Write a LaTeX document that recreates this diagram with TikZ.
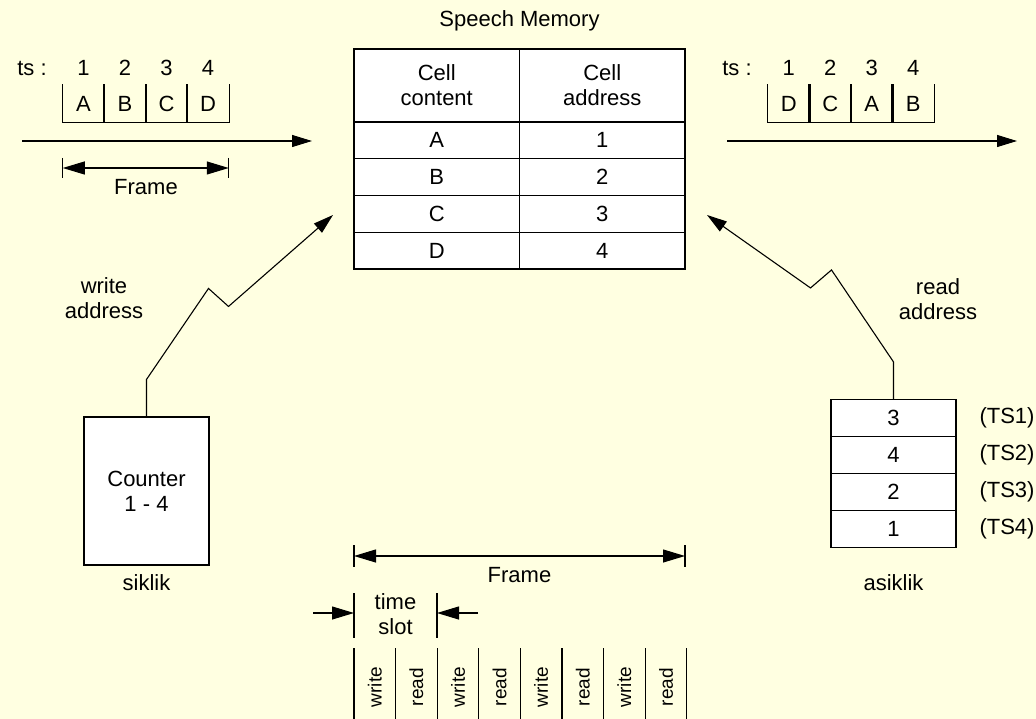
\documentclass[tikz,border=0pt]{standalone}
\usepackage{fontspec}
\setmainfont{Liberation Sans}
\usetikzlibrary{arrows.meta,positioning}
\definecolor{paper}{RGB}{255,255,225}
\tikzset{
  lbl/.style={font=\fontsize{22}{25}\selectfont, align=center, inner sep=0pt},
  cell/.style={lbl, draw, fill=white, minimum width=165.5, minimum height=36.75},
  slot/.style={lbl, minimum width=41.5, minimum height=37},
  phase/.style={font=\fontsize{19}{22}\selectfont, inner sep=0pt, rotate=90},
  sig/.style={-{Triangle[length=20pt,width=12pt]}},
  dim/.style={{Triangle[length=22pt,width=13pt]}-{Triangle[length=22pt,width=13pt]}},
}

\begin{document}
\begin{tikzpicture}[x=1pt, y=-1pt, line width=1.1pt]
  \fill[paper] (0,0) rectangle (1036,719);
  \useasboundingbox (0,0) rectangle (1036,719);

  % incoming frame
  \node[lbl] (tsin) at (32,68) {ts :};
  \foreach \c [count=\i] in {A,B,C,D} {
    \node[slot] (in\i) at (42+41.5*\i,103.5) {\c};
    \node[lbl]  (nin\i) at (42+41.5*\i,68) {\i};
    \draw (in\i.north west) -- (in\i.south west) -- (in\i.south east) -- (in\i.north east);
  }
  \coordinate (inL) at (22,141);
  \coordinate (inR) at (312,141);
  \draw[sig] (inL) -- (inR);
  \coordinate (fa) at (62.75,168);
  \coordinate (fb) at (228.75,168);
  \draw (fa) ++(0,-10) -- ++(0,20);
  \draw (fb) ++(0,-10) -- ++(0,20);
  \draw[dim] (fa) -- (fb);
  \node[lbl] (frin) at (146,187) {Frame};

  % speech memory
  \node[lbl] (mem) at (519.5,21) {Speech Memory};
  \node[cell, minimum height=73] (hc) at (436.75,85.5) {Cell\\content};
  \node[cell, minimum height=73] (ha) at (602.25,85.5) {Cell\\address};
  \foreach \c/\a [count=\i] in {A/1,B/2,C/3,D/4} {
    \node[cell] (c\i) at (436.75,103.625+36.75*\i) {\c};
    \node[cell] (a\i) at (602.25,103.625+36.75*\i) {\a};
  }

  % outgoing frame
  \node[lbl] (tsout) at (737,68) {ts :};
  \foreach \c [count=\i] in {D,C,A,B} {
    \node[slot] (out\i) at (747.25+41.5*\i,103.5) {\c};
    \node[lbl]  (nout\i) at (747.25+41.5*\i,68) {\i};
    \draw (out\i.north west) -- (out\i.south west) -- (out\i.south east) -- (out\i.north east);
  }
  \coordinate (outL) at (727,141);
  \coordinate (outR) at (1017,141);
  \draw[sig] (outL) -- (outR);

  % cyclic write control
  \node[lbl, draw, fill=white, minimum width=125, minimum height=148] (counter) at (146.5,491) {Counter\\1 - 4};
  \node[lbl] (siklik) at (146.5,583) {siklik};
  \node[lbl] (wraddr) at (104,298) {write\\address};
  \coordinate (wtip) at (333,215);
  \draw[sig] (counter.north) -- ++(0,-37) -- ++(62,-91) -- ++(20,18) -- (wtip);

  % acyclic read control
  \foreach \a [count=\i] in {3,4,2,1} {
    \node[lbl, draw, fill=white, minimum width=125, minimum height=37] (rd\i) at (893.5,381+37*\i) {\a};
    \node[lbl] (ts\i) at (1007,381+37*\i) {(TS\i)};
  }
  \node[lbl] (asiklik) at (893.5,583) {asiklik};
  \node[lbl] (rdaddr) at (938,299) {read\\address};
  \coordinate (rtip) at (707,215);
  \draw[sig] (rd1.north) -- ++(0,-37) -- ++(-62,-92) -- ++(-21,18) -- (rtip);

  % frame and time slots
  \coordinate (ba) at (354,556);
  \coordinate (bb) at (685,556);
  \draw (ba) ++(0,-11) -- ++(0,22);
  \draw (bb) ++(0,-11) -- ++(0,22);
  \draw[dim] (ba) -- (bb);
  \node[lbl] (frbot) at (519.5,575) {Frame};

  \coordinate (sa) at (354,613);
  \coordinate (sb) at (437,613);
  \draw (sa) ++(0,-20) -- ++(0,45);
  \draw (sb) ++(0,-20) -- ++(0,45);
  \draw[-{Triangle[length=22pt,width=13pt]}] (313,613) -- (sa);
  \draw[-{Triangle[length=22pt,width=13pt]}] (478,613) -- (sb);
  \node[lbl] (tslot) at (395.5,614.5) {time\\slot};

  \foreach \k in {0,...,8}
    \draw (354+41.6*\k,648) -- (354+41.6*\k,719);
  \foreach \w [count=\k] in {write,read,write,read,write,read,write,read}
    \node[phase] (ph\k) at (333.2+41.6*\k,687) {\w};
\end{tikzpicture}
\end{document}
